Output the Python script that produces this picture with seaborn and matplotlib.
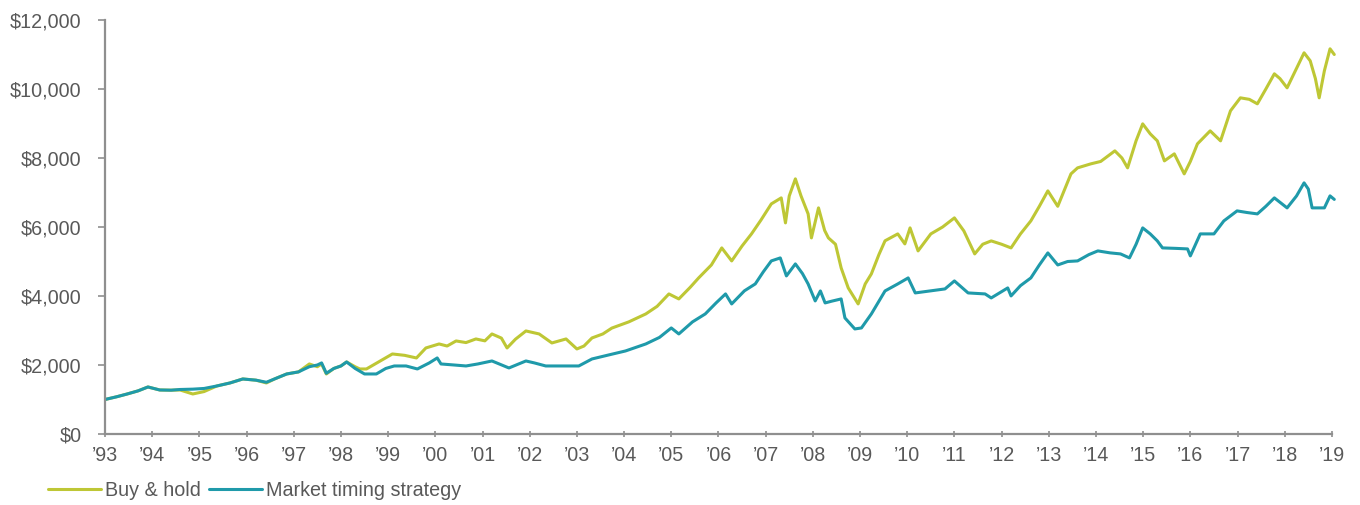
import matplotlib
matplotlib.use("Agg")
import matplotlib.pyplot as plt
import seaborn as sns
import pandas as pd
from matplotlib.ticker import FuncFormatter
from matplotlib.lines import Line2D

# ---- data ----
bh_years = [1993.00, 1993.25, 1993.47, 1993.70, 1993.91, 1994.16, 1994.40, 1994.59, 1994.86, 1995.10,
            1995.37, 1995.65, 1995.92, 1996.20, 1996.42, 1996.60, 1996.85, 1997.10, 1997.33, 1997.50,
            1997.59, 1997.69, 1997.85, 1998.00, 1998.12, 1998.30, 1998.40, 1998.54, 1998.75, 1999.09,
            1999.35, 1999.60, 1999.80, 2000.08, 2000.25, 2000.44, 2000.65, 2000.86, 2001.05, 2001.20,
            2001.40, 2001.52, 2001.70, 2001.92, 2002.20, 2002.47, 2002.77, 2003.00, 2003.15, 2003.32,
            2003.55, 2003.74, 2004.10, 2004.46, 2004.70, 2004.95, 2005.16, 2005.40, 2005.58, 2005.85,
            2006.07, 2006.28, 2006.50, 2006.70, 2006.90, 2007.12, 2007.33, 2007.42, 2007.50, 2007.63,
            2007.75, 2007.90, 2007.97, 2008.12, 2008.25, 2008.33, 2008.48, 2008.60, 2008.75, 2008.96,
            2009.11, 2009.24, 2009.40, 2009.53, 2009.80, 2009.95, 2010.06, 2010.23, 2010.50, 2010.75,
            2011.00, 2011.20, 2011.43, 2011.60, 2011.78, 2012.00, 2012.20, 2012.40, 2012.62, 2012.80,
            2012.98, 2013.19, 2013.47, 2013.61, 2013.89, 2014.10, 2014.40, 2014.55, 2014.67, 2014.85,
            2014.99, 2015.15, 2015.30, 2015.45, 2015.66, 2015.87, 2016.00, 2016.15, 2016.42, 2016.64,
            2016.85, 2017.06, 2017.25, 2017.42, 2017.60, 2017.78, 2017.90, 2018.05, 2018.25, 2018.41,
            2018.54, 2018.65, 2018.73, 2018.84, 2018.96, 2019.05]
bh_values = [1000, 1080, 1160, 1250, 1363, 1276, 1270, 1276, 1160, 1230,
             1392, 1480, 1595, 1560, 1479, 1600, 1740, 1800, 2030, 1950,
             2030, 1740, 1900, 1972, 2088, 1950, 1885, 1885, 2050, 2320,
             2280, 2204, 2494, 2610, 2550, 2697, 2650, 2755, 2700, 2900,
             2780, 2494, 2750, 2987, 2900, 2639, 2755, 2465, 2550, 2784,
             2900, 3070, 3250, 3480, 3700, 4060, 3915, 4250, 4524, 4900,
             5394, 5017, 5450, 5800, 6200, 6670, 6844, 6119, 6900, 7395,
             6900, 6380, 5684, 6554, 5900, 5684, 5500, 4814, 4234, 3770,
             4350, 4640, 5200, 5600, 5800, 5510, 5974, 5307, 5800, 6000,
             6264, 5887, 5220, 5500, 5597, 5500, 5394, 5800, 6177, 6600,
             7047, 6600, 7540, 7714, 7830, 7900, 8207, 8000, 7714, 8500,
             8990, 8700, 8497, 7917, 8120, 7540, 7900, 8410, 8787, 8497,
             9367, 9744, 9700, 9570, 10000, 10440, 10300, 10034, 10600, 11049,
             10817, 10300, 9744, 10527, 11165, 11000]

mt_years = [1993.00, 1993.25, 1993.47, 1993.70, 1993.91, 1994.16, 1994.40, 1994.59, 1994.86, 1995.10,
            1995.37, 1995.65, 1995.92, 1996.20, 1996.42, 1996.60, 1996.85, 1997.10, 1997.33, 1997.50,
            1997.59, 1997.69, 1997.85, 1998.00, 1998.12, 1998.30, 1998.50, 1998.75, 1998.95, 1999.13,
            1999.38, 1999.62, 1999.87, 2000.04, 2000.12, 2000.40, 2000.65, 2000.90, 2001.20, 2001.56,
            2001.92, 2002.10, 2002.34, 2002.70, 2003.04, 2003.32, 2003.70, 2004.03, 2004.46, 2004.75,
            2005.00, 2005.16, 2005.45, 2005.72, 2005.95, 2006.15, 2006.28, 2006.55, 2006.78, 2006.95,
            2007.12, 2007.31, 2007.44, 2007.63, 2007.78, 2007.90, 2008.05, 2008.16, 2008.26, 2008.40,
            2008.60, 2008.68, 2008.89, 2009.03, 2009.24, 2009.53, 2009.80, 2010.02, 2010.17, 2010.50,
            2010.80, 2011.00, 2011.29, 2011.65, 2011.78, 2012.13, 2012.20, 2012.40, 2012.62, 2012.80,
            2012.98, 2013.19, 2013.40, 2013.61, 2013.85, 2014.04, 2014.30, 2014.52, 2014.71, 2014.85,
            2014.99, 2015.15, 2015.30, 2015.41, 2015.70, 2015.94, 2016.00, 2016.21, 2016.50, 2016.71,
            2016.99, 2017.20, 2017.42, 2017.60, 2017.78, 2018.05, 2018.25, 2018.41, 2018.50, 2018.58,
            2018.84, 2018.96, 2019.05]
mt_values = [1000, 1080, 1160, 1250, 1363, 1276, 1270, 1290, 1300, 1320,
             1392, 1480, 1595, 1560, 1500, 1600, 1740, 1800, 1950, 2000,
             2060, 1760, 1900, 1972, 2088, 1900, 1740, 1740, 1900, 1972,
             1972, 1885, 2059, 2204, 2030, 2000, 1972, 2030, 2117, 1914,
             2117, 2060, 1972, 1972, 1972, 2175, 2300, 2407, 2610, 2800,
             3074, 2900, 3250, 3480, 3800, 4060, 3770, 4150, 4350, 4700,
             5017, 5104, 4582, 4930, 4650, 4350, 3857, 4147, 3799, 3850,
             3915, 3364, 3045, 3074, 3480, 4147, 4350, 4524, 4089, 4150,
             4205, 4437, 4089, 4060, 3944, 4234, 4002, 4300, 4524, 4900,
             5249, 4900, 5000, 5017, 5200, 5307, 5250, 5220, 5104, 5500,
             5974, 5800, 5597, 5394, 5380, 5365, 5162, 5800, 5800, 6177,
             6467, 6420, 6380, 6600, 6844, 6554, 6900, 7279, 7100, 6554,
             6554, 6902, 6800]

series_names = ["Buy & hold", "Market timing strategy"]
series_colors = ["#bec735", "#1f9aaa"]
year_ticks = list(range(1993, 2020))
year_labels = ["\u2019" + str(y)[2:] for y in year_ticks]
y_ticks = [0, 2000, 4000, 6000, 8000, 10000, 12000]

df = pd.concat([
    pd.DataFrame({"year": bh_years, "value": bh_values, "series": series_names[0]}),
    pd.DataFrame({"year": mt_years, "value": mt_values, "series": series_names[1]}),
], ignore_index=True)

sns.set_theme(style="white")
plt.rcParams["font.family"] = ["Liberation Sans", "DejaVu Sans"]

fig = plt.figure(figsize=(13.6, 5.05), dpi=100)
ax = fig.add_axes([105 / 1360, 1 - 434 / 505, (1339 - 105) / 1360, (434 - 20) / 505])

sns.lineplot(data=df, x="year", y="value", hue="series", hue_order=series_names,
             palette=series_colors, linewidth=2.2, ax=ax, legend=False,
             estimator=None, sort=False)

ax.set_xlim(1993, 2019.15)
ax.set_ylim(0, 12000)
ax.set_xticks(year_ticks)
ax.set_xticklabels(year_labels)
ax.set_yticks(y_ticks)
ax.yaxis.set_major_formatter(FuncFormatter(lambda v, p: "${:,.0f}".format(v)))
ax.set_xlabel("")
ax.set_ylabel("")

for side in ["top", "right"]:
    ax.spines[side].set_visible(False)
for side in ["left", "bottom"]:
    ax.spines[side].set_color("#8f8f8f")
    ax.spines[side].set_linewidth(1.6)
ax.spines["bottom"].set_bounds(1993, 2019)

text_color = "#595959"
fs = 14.2
ax.tick_params(axis="y", direction="out", length=5, width=1.2, color="#8f8f8f",
               labelsize=fs, labelcolor=text_color, pad=12, left=True)
ax.tick_params(axis="x", direction="inout", length=5, width=1.2, color="#8f8f8f",
               labelsize=fs, labelcolor=text_color, pad=6, bottom=True)

handles = [Line2D([], [], color=c, linewidth=2.2) for c in series_colors]
fig.legend(handles, series_names, loc="center left", bbox_to_anchor=(0.035, 0.029),
           ncol=2, frameon=False, fontsize=fs, handlelength=2.7, handletextpad=0.2,
           columnspacing=0.4, borderpad=0, borderaxespad=0, labelcolor=text_color)

fig.savefig("out.png", dpi=100, facecolor="white")
